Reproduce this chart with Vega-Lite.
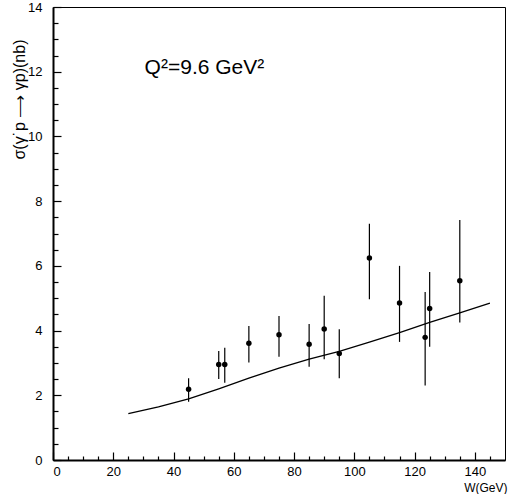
{
  "$schema": "https://vega.github.io/schema/vega-lite/v6.json",
  "width": 452,
  "height": 453,
  "autosize": {"type": "none"},
  "padding": {"left": 53, "top": 7, "right": 3, "bottom": 34},
  "config": {
    "view": {"stroke": "#000", "strokeWidth": 1},
    "font": "Liberation Sans",
    "axis": {
      "grid": false,
      "ticks": true,
      "domainColor": "#000",
      "tickColor": "#000",
      "labelColor": "#000",
      "titleColor": "#000",
      "labelFont": "Liberation Sans",
      "titleFont": "Liberation Sans",
      "labelFontSize": 13,
      "titleFontWeight": "normal"
    }
  },
  "datasets": {
    "meas": [
      {"W": 45, "sigma": 2.19, "lo": 1.80, "hi": 2.53},
      {"W": 55, "sigma": 2.95, "lo": 2.50, "hi": 3.37},
      {"W": 57, "sigma": 2.95, "lo": 2.39, "hi": 3.47},
      {"W": 65, "sigma": 3.61, "lo": 3.01, "hi": 4.14},
      {"W": 75, "sigma": 3.87, "lo": 3.19, "hi": 4.45},
      {"W": 85, "sigma": 3.58, "lo": 2.88, "hi": 4.20},
      {"W": 90, "sigma": 4.05, "lo": 3.11, "hi": 5.08},
      {"W": 95, "sigma": 3.29, "lo": 2.53, "hi": 4.04},
      {"W": 105, "sigma": 6.24, "lo": 4.97, "hi": 7.30},
      {"W": 115, "sigma": 4.85, "lo": 3.65, "hi": 6.00},
      {"W": 123.5, "sigma": 3.79, "lo": 2.30, "hi": 5.19},
      {"W": 125, "sigma": 4.68, "lo": 3.50, "hi": 5.81},
      {"W": 135, "sigma": 5.54, "lo": 4.25, "hi": 7.42}
    ],
    "curve": [
      {"W": 25, "sigma": 1.43},
      {"W": 35, "sigma": 1.64},
      {"W": 45, "sigma": 1.89},
      {"W": 55, "sigma": 2.20},
      {"W": 65, "sigma": 2.53},
      {"W": 75, "sigma": 2.84},
      {"W": 85, "sigma": 3.12},
      {"W": 95, "sigma": 3.36},
      {"W": 105, "sigma": 3.64},
      {"W": 115, "sigma": 3.94},
      {"W": 125, "sigma": 4.25},
      {"W": 135, "sigma": 4.55},
      {"W": 145, "sigma": 4.85}
    ]
  },
  "layer": [
    {
      "data": {"name": "curve"},
      "mark": {"type": "line", "color": "#000", "strokeWidth": 1.3},
      "encoding": {
        "x": {
          "field": "W", "type": "quantitative",
          "scale": {"domain": [0, 150], "nice": false, "zero": false},
          "axis": {
            "orient": "bottom",
            "values": [0, 20, 40, 60, 80, 100, 120, 140],
            "ticks": false,
            "labelPadding": 5, "labelBaseline": "top",
            "domainWidth": 2,
            "title": "W(GeV)", "titleX": 454, "titleY": 27,
            "titleAlign": "right", "titleBaseline": "middle", "titleFontSize": 12
          }
        },
        "y": {
          "field": "sigma", "type": "quantitative",
          "scale": {"domain": [0, 14], "nice": false, "zero": false},
          "axis": {
            "orient": "left",
            "values": [0, 2, 4, 6, 8, 10, 12, 14],
            "ticks": false,
            "labelPadding": 11, "labelBaseline": "middle",
            "domainWidth": 2,
            "title": "σ(γ˙p ⟶ γp)(nb)", "titleX": -34, "titleY": 92,
            "titleAngle": -90, "titleAlign": "center", "titleBaseline": "middle", "titleFontSize": 16
          }
        }
      }
    },
    {
      "data": {"name": "meas"},
      "mark": {"type": "rule", "color": "#000", "strokeWidth": 1.2},
      "encoding": {
        "x": {
          "field": "W", "type": "quantitative",
          "axis": {
            "orient": "bottom",
            "values": [0, 20, 40, 60, 80, 100, 120, 140],
            "offset": -8, "tickSize": 8, "tickWidth": 1.2,
            "labels": false, "domain": false, "title": null
          }
        },
        "y": {
          "field": "lo", "type": "quantitative",
          "axis": {
            "orient": "left",
            "values": [0, 2, 4, 6, 8, 10, 12, 14],
            "offset": -8, "tickSize": 8, "tickWidth": 1.2,
            "labels": false, "domain": false, "title": null
          }
        },
        "y2": {"field": "hi"}
      }
    },
    {
      "data": {"name": "meas"},
      "mark": {"type": "point", "filled": true, "color": "#000", "size": 30, "opacity": 1},
      "encoding": {
        "x": {
          "field": "W", "type": "quantitative",
          "axis": {
            "orient": "bottom",
            "values": [5, 10, 15, 25, 30, 35, 45, 50, 55, 65, 70, 75, 85, 90, 95, 105, 110, 115, 125, 130, 135, 145],
            "offset": -4, "tickSize": 4, "tickWidth": 1.2,
            "labels": false, "domain": false, "title": null
          }
        },
        "y": {
          "field": "sigma", "type": "quantitative",
          "axis": {
            "orient": "left",
            "values": [0.5, 1, 1.5, 2.5, 3, 3.5, 4.5, 5, 5.5, 6.5, 7, 7.5, 8.5, 9, 9.5, 10.5, 11, 11.5, 12.5, 13, 13.5],
            "offset": -5, "tickSize": 5, "tickWidth": 1.2,
            "labels": false, "domain": false, "title": null
          }
        }
      }
    },
    {
      "data": {"values": [{}]},
      "mark": {"type": "text", "align": "left", "baseline": "middle", "fontSize": 21, "font": "Liberation Sans", "color": "#000"},
      "encoding": {
        "x": {"datum": 30.4, "type": "quantitative", "axis": null},
        "y": {"datum": 12.1, "type": "quantitative", "axis": null},
        "text": {"value": "Q²=9.6 GeV²"}
      }
    }
  ],
  "resolve": {"axis": {"x": "independent", "y": "independent"}}
}
